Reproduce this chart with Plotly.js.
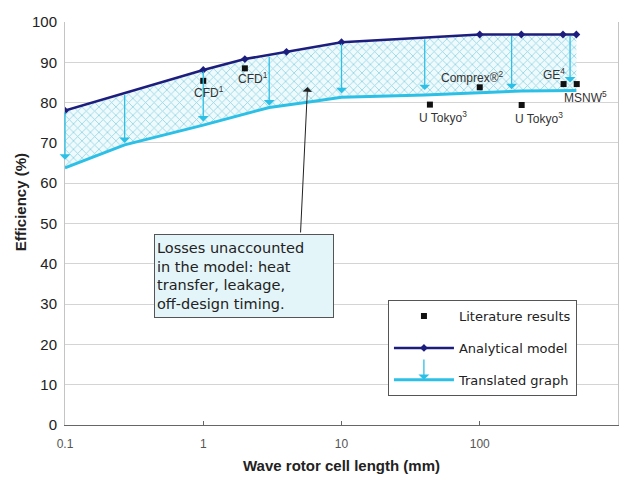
<!DOCTYPE html>
<html>
<head>
<meta charset="utf-8">
<script src="https://cdn.plot.ly/plotly-3.0.1.min.js"></script>
<style>html,body{margin:0;padding:0;background:#fff}</style>
</head>
<body>
<div id="chart" style="width:630px;height:484px"></div>
<script>
// ---- data ----
const modelX = [0.1, 1, 2, 4, 10, 100, 200, 400, 500];
const modelY = [78.0, 88.1, 90.8, 92.6, 95.0, 96.9, 96.9, 96.9, 96.9];

const transX = [0.1, 0.27, 1, 3, 6, 10, 40, 100, 200, 500];
const transY = [63.8, 69.5, 74.4, 78.8, 80.2, 81.3, 81.9, 82.5, 82.9, 83.0];

const litX = [1, 2, 43.6, 100, 201, 404, 503];
const litY = [85.4, 88.5, 79.5, 83.8, 79.4, 84.6, 84.6];
const litLabels = ['CFD<sup>1</sup>', 'CFD<sup>1</sup>', 'U Tokyo<sup>3</sup>', 'Comprex®<sup>2</sup>', 'U Tokyo<sup>3</sup>', 'GE<sup>4</sup>', 'MSNW<sup>5</sup>'];

const arrowX = [0.1, 0.27, 1, 3, 10, 40, 170, 450];
const arrowTop = [78.0, 82.3, 88.1, 91.7, 95.0, 96.1, 96.9, 96.9];
const arrowTip = [65.8, 70.0, 75.3, 79.3, 82.3, 83.1, 83.3, 85.0];

const boxText = 'Losses unaccounted<br>in the model: heat<br>transfer, leakage,<br>off-design timing.';
const xTitle = 'Wave rotor cell length (mm)';
const yTitle = 'Efficiency (%)';
const xTickVals = [0.1, 1, 10, 100, 1000];
const xTickText = ['0.1', '1', '10', '100', '1000'];

// ---- styling (not data) ----
const NAVY = '#1d1d7e';
const CYAN = '#2cc0e6';
const labelShift = [[6, -11], [8, -10], [13, -12], [-7, 10], [17, -13], [-10, 10], [9, -13]];

const traces = [
  {
    x: modelX, y: modelY, type: 'scatter', mode: 'lines+markers',
    name: 'Analytical model', legendgroup: 'b', legendrank: 2,
    line: {color: NAVY, width: 2.5},
    marker: {symbol: 'diamond', size: 6, color: NAVY}
  },
  { // hatched band between the two curves (fills up to the model curve)
    x: transX, y: transY, type: 'scatter', mode: 'lines',
    showlegend: false, hoverinfo: 'skip',
    line: {width: 0, color: 'rgba(0,0,0,0)'},
    fill: 'tonexty', fillcolor: 'rgba(0,0,0,0)',
    fillpattern: {shape: 'x', fgcolor: '#8fd4e4', bgcolor: '#effafc', size: 6, solidity: 0.25}
  },
  {
    x: transX, y: transY, type: 'scatter', mode: 'lines',
    name: 'Translated graph', legendgroup: 'c', legendrank: 3,
    line: {color: CYAN, width: 3}
  },
  {
    x: litX, y: litY, type: 'scatter', mode: 'markers',
    name: 'Literature results', legendgroup: 'a', legendrank: 1,
    marker: {symbol: 'square', size: 6, color: '#111'}
  }
];

const annotations = [];
arrowX.forEach((x, i) => {
  annotations.push({
    x: Math.log10(x), y: arrowTip[i], xref: 'x', yref: 'y',
    ax: Math.log10(x), ay: arrowTop[i], axref: 'x', ayref: 'y',
    showarrow: true, arrowhead: 1, arrowsize: 1.4, arrowwidth: 1.3,
    arrowcolor: CYAN, standoff: 0, startstandoff: 0, text: ''
  });
});
litX.forEach((x, i) => {
  annotations.push({
    x: Math.log10(x), y: litY[i], xref: 'x', yref: 'y',
    text: litLabels[i], showarrow: false,
    xanchor: 'center', yanchor: 'middle',
    xshift: labelShift[i][0], yshift: labelShift[i][1],
    font: {family: 'Liberation Sans, Arial', size: 12, color: '#333'}
  });
});
// text box
annotations.push({
  x: 0.297, y: 37, xref: 'x', yref: 'y',
  text: boxText, showarrow: false, align: 'left',
  xanchor: 'center', yanchor: 'middle',
  width: 174, height: 78,
  bgcolor: '#e4f5f9', bordercolor: '#555', borderwidth: 1, borderpad: 2,
  font: {family: 'DejaVu Sans', size: 14.5, color: '#222'}
});
// pointer arrow from box to the gap
annotations.push({
  x: Math.log10(5.68), y: 83.9, xref: 'x', yref: 'y',
  ax: Math.log10(5.05), ay: 47.4, axref: 'x', ayref: 'y',
  showarrow: true, arrowhead: 1, arrowsize: 1.6, arrowwidth: 1,
  arrowcolor: '#222', standoff: 0, text: ''
});
// arrow drawn on the legend symbol of "Translated graph"
annotations.push({
  x: 0.649, y: 0.112, xref: 'paper', yref: 'paper',
  ax: 0.649, ay: 0.166, axref: 'paper', ayref: 'paper',
  showarrow: true, arrowhead: 1, arrowsize: 1.4, arrowwidth: 1.3,
  arrowcolor: CYAN, standoff: 0, text: ''
});
// y-axis title (placed as in the reference, above the plot centre)
annotations.push({
  x: -0.081, y: 0.553, xref: 'paper', yref: 'paper',
  text: yTitle, textangle: -90, showarrow: false,
  xanchor: 'center', yanchor: 'middle',
  font: {family: 'Liberation Sans, Arial', size: 15, color: '#222', weight: 'bold'}
});

const layout = {
  width: 630, height: 484,
  margin: {l: 65, r: 12, t: 22, b: 59},
  paper_bgcolor: '#fff', plot_bgcolor: '#fff',
  showlegend: true,
  legend: {
    x: 0.584, y: 0.31, xanchor: 'left', yanchor: 'top',
    bgcolor: '#fff', bordercolor: '#555', borderwidth: 1,
    font: {family: 'DejaVu Sans', size: 13, color: '#222'},
    itemwidth: 60, tracegroupgap: 12, traceorder: 'grouped'
  },
  xaxis: {
    type: 'log', range: [-1, 3],
    tickvals: xTickVals, ticktext: xTickText,
    showgrid: false, zeroline: false,
    showline: true, linecolor: '#666', linewidth: 1,
    ticks: 'inside', ticklen: 4, tickcolor: '#666',
    ticklabelstandoff: 8,
    tickfont: {family: 'Liberation Sans, Arial', size: 12, color: '#555'},
    title: {text: xTitle, standoff: 10,
            font: {family: 'Liberation Sans, Arial', size: 15, color: '#222', weight: 'bold'}}
  },
  yaxis: {
    range: [0, 100], dtick: 10,
    showgrid: true, gridcolor: '#d4d4d4', gridwidth: 1,
    zeroline: false, showline: true, mirror: true, linecolor: '#c4c4c4',
    ticks: '', ticklabelstandoff: 4,
    tickfont: {family: 'Liberation Sans, Arial', size: 15, color: '#222'}
  },
  annotations: annotations
};

Plotly.newPlot('chart', traces, layout, {displayModeBar: false, staticPlot: true});
</script>
</body>
</html>
